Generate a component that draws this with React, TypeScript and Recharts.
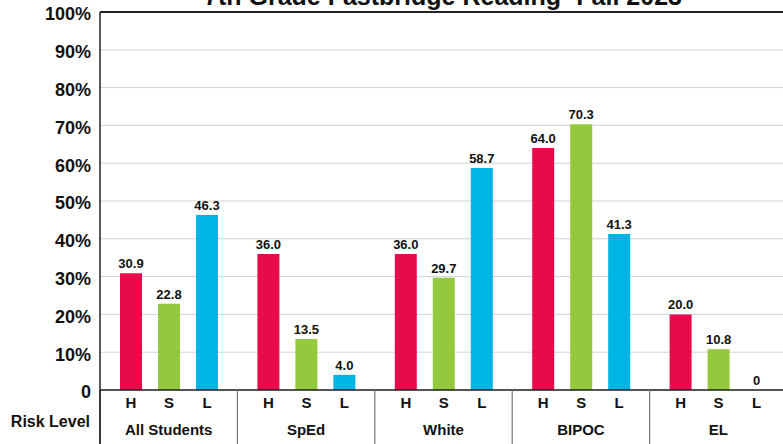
import React from 'react';
import { BarChart, Bar, XAxis, YAxis, CartesianGrid, ReferenceLine, LabelList } from 'recharts';

const groups = ['All Students', 'SpEd', 'White', 'BIPOC', 'EL'];
const highRisk = [30.9, 36.0, 36.0, 64.0, 20.0];
const someRisk = [22.8, 13.5, 29.7, 70.3, 10.8];
const lowRisk = [46.3, 4.0, 58.7, 41.3, 0];
const yTicks = [0, 10, 20, 30, 40, 50, 60, 70, 80, 90, 100];

const series = [
  { key: 'H', color: '#E70B4C' },
  { key: 'S', color: '#94C83D' },
  { key: 'L', color: '#00B5E4' },
];

const data = groups.map((group, i) => ({ group, H: highRisk[i], S: someRisk[i], L: lowRisk[i] }));

const FONT = '"Liberation Sans", Arial, sans-serif';
const CHART_W = 790;
const CHART_H = 444;
const MARGIN = { top: 12, right: 3, left: 0, bottom: 0 };
const YAXIS_W = 100;
const BAND = (CHART_W - MARGIN.left - MARGIN.right - YAXIS_W) / groups.length;

const letterLabel = (letter: string) => (props: any) => {
  const { x, y, width, height } = props;
  return (
    <text
      x={Number(x) + Number(width) / 2}
      y={Number(y) + Number(height) + 18}
      textAnchor="middle"
      fontFamily={FONT}
      fontWeight="bold"
      fontSize={15}
      fill="#111"
    >
      {letter}
    </text>
  );
};

const GroupTick = (props: any) => {
  const { x, y, payload } = props;
  const left = x - BAND / 2;
  return (
    <g>
      <line x1={left} x2={left} y1={y} y2={y + 60} stroke={left < YAXIS_W + 2 ? '#222' : '#777'} strokeWidth={1.2} />
      <text x={x} y={y + 45} textAnchor="middle" fontFamily={FONT} fontWeight="bold" fontSize={15} fill="#111">
        {payload.value}
      </text>
    </g>
  );
};

export default function App() {
  return (
    <div style={{ position: 'fixed', left: 0, top: 0, width: 783, height: 444, overflow: 'hidden', background: '#fff' }}>
      <BarChart width={CHART_W} height={CHART_H} data={data} margin={MARGIN} barSize={22} barGap={16}>
        <CartesianGrid vertical={false} stroke="#d2d2d2" />
        <XAxis
          dataKey="group"
          height={54}
          interval={0}
          tickLine={false}
          tickSize={0}
          tickMargin={0}
          axisLine={{ stroke: '#222', strokeWidth: 1.5 }}
          tick={<GroupTick />}
        />
        <YAxis
          width={YAXIS_W}
          domain={[0, 100]}
          ticks={yTicks}
          interval={0}
          tickLine={false}
          tickSize={0}
          tickMargin={9}
          axisLine={{ stroke: '#222', strokeWidth: 1.5 }}
          tickFormatter={(v: number) => (v === 0 ? '0' : `${v}%`)}
          tick={{ fontFamily: FONT, fontWeight: 'bold', fontSize: 18, fill: '#111', dy: 2 }}
        />
        <ReferenceLine y={100} stroke="#222" strokeWidth={2} />
        {series.map((s) => (
          <Bar key={s.key} dataKey={s.key} fill={s.color} minPointSize={0.01} isAnimationActive={false}>
            <LabelList
              dataKey={s.key}
              position="top"
              offset={5}
              formatter={(v: any) => (Number(v) === 0 ? '0' : Number(v).toFixed(1))}
              style={{ fontFamily: FONT, fontWeight: 'bold', fontSize: 13, fill: '#111' }}
            />
            <LabelList dataKey={s.key} content={letterLabel(s.key)} />
          </Bar>
        ))}
      </BarChart>
      <svg width={783} height={444} style={{ position: 'absolute', left: 0, top: 0, pointerEvents: 'none' }}>
        <text x={443} y={5} textAnchor="middle" fontFamily={FONT} fontWeight="bold" fontSize={25} fill="#111">
          7th Grade Fastbridge Reading- Fall 2023
        </text>
        <line x1={100} x2={100} y1={390} y2={444} stroke="#222" strokeWidth={1.5} />
        <text x={90} y={427} textAnchor="end" fontFamily={FONT} fontWeight="bold" fontSize={16} fill="#111">
          Risk Level
        </text>
      </svg>
    </div>
  );
}
